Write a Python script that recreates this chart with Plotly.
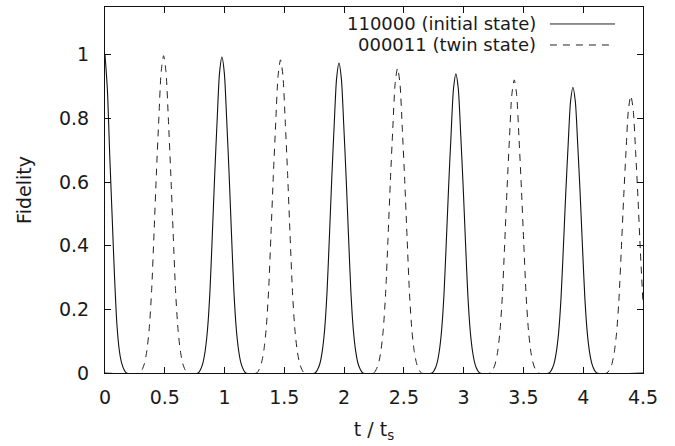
import plotly.graph_objects as go

# ---- data ----
series_names = ["110000 (initial state)", "000011 (twin state)"]

solid_t = [0.0, 0.02, 0.04, 0.06, 0.08, 0.10, 0.12, 0.14, 0.16, 0.18,
           0.778, 0.798, 0.818, 0.838, 0.858, 0.878, 0.898, 0.918, 0.938, 0.958, 0.978,
           0.998, 1.018, 1.038, 1.058, 1.078, 1.098, 1.118, 1.138, 1.158, 1.178,
           1.757, 1.777, 1.797, 1.817, 1.837, 1.857, 1.877, 1.897, 1.917, 1.937, 1.957,
           1.977, 1.997, 2.017, 2.037, 2.057, 2.077, 2.097, 2.117, 2.137, 2.157,
           2.735, 2.755, 2.775, 2.795, 2.815, 2.835, 2.855, 2.875, 2.895, 2.915, 2.935,
           2.955, 2.975, 2.995, 3.015, 3.035, 3.055, 3.075, 3.095, 3.115, 3.135,
           3.714, 3.734, 3.754, 3.774, 3.794, 3.814, 3.834, 3.854, 3.874, 3.894, 3.914,
           3.934, 3.954, 3.974, 3.994, 4.014, 4.034, 4.054, 4.074, 4.094, 4.114,
           4.5]
solid_y = [1.0, 0.89, 0.68, 0.49, 0.30, 0.15, 0.07, 0.03, 0.01, 0.0,
           0.0, 0.010, 0.030, 0.070, 0.139, 0.258, 0.437, 0.626, 0.794, 0.943, 0.993,
           0.943, 0.794, 0.626, 0.437, 0.258, 0.139, 0.070, 0.030, 0.010, 0.0,
           0.0, 0.010, 0.029, 0.068, 0.136, 0.253, 0.429, 0.614, 0.779, 0.925, 0.974,
           0.925, 0.779, 0.614, 0.429, 0.253, 0.136, 0.068, 0.029, 0.010, 0.0,
           0.0, 0.009, 0.028, 0.066, 0.132, 0.244, 0.414, 0.592, 0.752, 0.893, 0.940,
           0.893, 0.752, 0.592, 0.414, 0.244, 0.132, 0.066, 0.028, 0.009, 0.0,
           0.0, 0.009, 0.027, 0.063, 0.126, 0.233, 0.395, 0.566, 0.718, 0.853, 0.898,
           0.853, 0.718, 0.566, 0.395, 0.233, 0.126, 0.063, 0.027, 0.009, 0.0,
           0.0]

dashed_t = [0.0,
            0.29, 0.31, 0.33, 0.35, 0.37, 0.39, 0.41, 0.43, 0.45, 0.47, 0.49,
            0.51, 0.53, 0.55, 0.57, 0.59, 0.61, 0.63, 0.65, 0.67, 0.69,
            1.268, 1.288, 1.308, 1.328, 1.348, 1.368, 1.388, 1.408, 1.428, 1.448, 1.468,
            1.488, 1.508, 1.528, 1.548, 1.568, 1.588, 1.608, 1.628, 1.648, 1.668,
            2.247, 2.267, 2.287, 2.307, 2.327, 2.347, 2.367, 2.387, 2.407, 2.427, 2.447,
            2.467, 2.487, 2.507, 2.527, 2.547, 2.567, 2.587, 2.607, 2.627, 2.647,
            3.223, 3.243, 3.263, 3.283, 3.303, 3.323, 3.343, 3.363, 3.383, 3.403, 3.423,
            3.443, 3.463, 3.483, 3.503, 3.523, 3.543, 3.563, 3.583, 3.603, 3.623,
            4.198, 4.218, 4.238, 4.258, 4.278, 4.298, 4.318, 4.338, 4.358, 4.378, 4.398,
            4.418, 4.438, 4.458, 4.478, 4.5]
dashed_y = [0.0,
            0.0, 0.010, 0.030, 0.070, 0.140, 0.259, 0.439, 0.628, 0.798, 0.947, 0.997,
            0.947, 0.798, 0.628, 0.439, 0.259, 0.140, 0.070, 0.030, 0.010, 0.0,
            0.0, 0.010, 0.030, 0.069, 0.138, 0.256, 0.433, 0.620, 0.787, 0.935, 0.984,
            0.935, 0.787, 0.620, 0.433, 0.256, 0.138, 0.069, 0.030, 0.010, 0.0,
            0.0, 0.010, 0.029, 0.067, 0.134, 0.249, 0.422, 0.604, 0.766, 0.910, 0.958,
            0.910, 0.766, 0.604, 0.422, 0.249, 0.134, 0.067, 0.029, 0.010, 0.0,
            0.0, 0.009, 0.028, 0.064, 0.129, 0.239, 0.405, 0.580, 0.737, 0.875, 0.921,
            0.875, 0.737, 0.580, 0.405, 0.239, 0.129, 0.064, 0.028, 0.009, 0.0,
            0.0, 0.009, 0.026, 0.061, 0.122, 0.226, 0.383, 0.549, 0.697, 0.827, 0.871,
            0.827, 0.697, 0.549, 0.383, 0.220]

x_ticks = [0, 0.5, 1, 1.5, 2, 2.5, 3, 3.5, 4, 4.5]
y_ticks = [0, 0.2, 0.4, 0.6, 0.8, 1]

FONT = "DejaVu Sans, Liberation Sans, Arial, sans-serif"
FS = 19
KEY_FS = 18
DASH = "7px,6px"

fig = go.Figure()
fig.add_trace(go.Scatter(x=solid_t, y=solid_y, mode="lines", name=series_names[0],
                         line=dict(color="#111111", width=1.1, shape="spline", smoothing=0.7),
                         showlegend=False, hoverinfo="skip"))
fig.add_trace(go.Scatter(x=dashed_t, y=dashed_y, mode="lines", name=series_names[1],
                         line=dict(color="#222222", width=1.0, dash=DASH,
                                   shape="spline", smoothing=0.7),
                         showlegend=False, hoverinfo="skip"))

# gnuplot-style key: right-aligned text followed by a line sample
key_rows = [(0.9536, "solid"), (0.8962, DASH)]
for name, (yy, dash) in zip(series_names, key_rows):
    fig.add_annotation(x=0.805, y=yy, xref="paper", yref="paper", text=name,
                       showarrow=False, xanchor="right", yanchor="middle",
                       font=dict(size=KEY_FS, color="#1a1a1a", family=FONT))
    fig.add_shape(type="line", xref="paper", yref="paper", x0=0.827, x1=0.948,
                  y0=yy, y1=yy, line=dict(color="#222222", width=1, dash=dash))

fig.update_layout(
    width=675, height=446,
    margin=dict(l=105, r=32, t=7, b=73, autoexpand=False),
    paper_bgcolor="white", plot_bgcolor="white",
    font=dict(family=FONT, size=FS, color="#1a1a1a"),
)
fig.update_xaxes(range=[0, 4.5], tickvals=x_ticks, ticks="inside", ticklen=6,
                 tickcolor="#111", showline=True, linecolor="#111", linewidth=1,
                 mirror="ticks", showgrid=False, zeroline=False, automargin=False,
                 ticklabelstandoff=7,
                 title=dict(text="t / t<sub>s</sub>", standoff=15,
                            font=dict(size=FS, family=FONT)))
fig.update_yaxes(range=[0, 1.15], tickvals=y_ticks, ticks="inside", ticklen=6,
                 tickcolor="#111", showline=True, linecolor="#111", linewidth=1,
                 mirror="ticks", showgrid=False, zeroline=False, automargin=False,
                 ticklabelstandoff=11,
                 title=dict(text="Fidelity", standoff=22,
                            font=dict(size=FS, family=FONT)))

fig.write_html("out.html", config={"displayModeBar": False},
               post_script="document.body.style.margin='0';")
